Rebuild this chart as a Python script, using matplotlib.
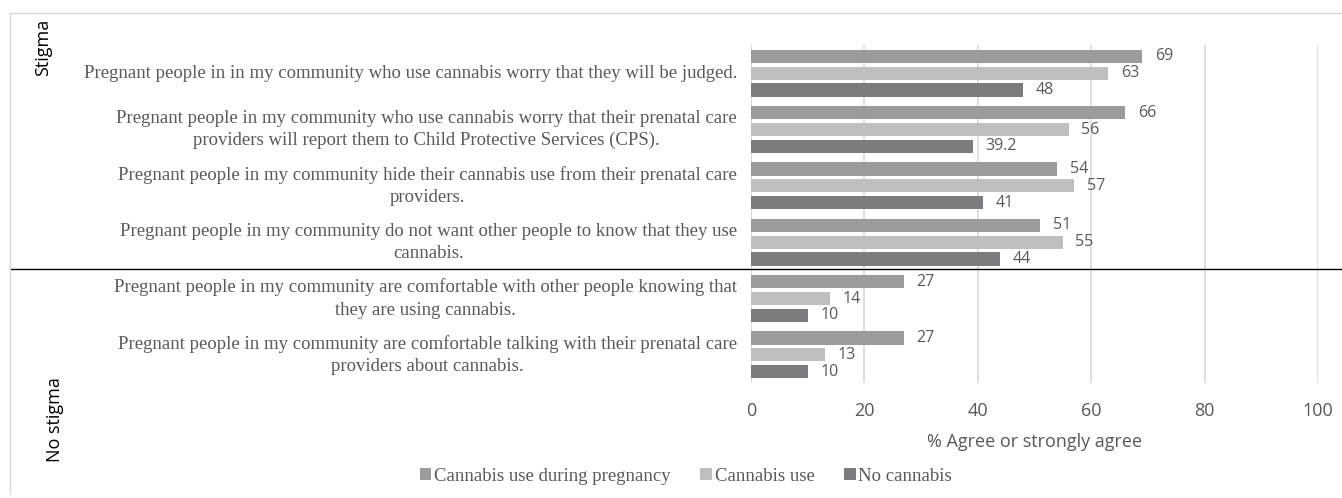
import numpy as np
import matplotlib.pyplot as plt
from matplotlib.lines import Line2D

statements = [
    "Pregnant people in in my community who use cannabis worry that they will be judged.",
    "Pregnant people in my community who use cannabis worry that their prenatal care\nproviders will report them to Child Protective Services (CPS).",
    "Pregnant people in my community hide their cannabis use from their prenatal care\nproviders.",
    "Pregnant people in my community do not want other people to know that they use\ncannabis.",
    "Pregnant people in my community are comfortable with other people knowing that\nthey are using cannabis.",
    "Pregnant people in my community are comfortable talking with their prenatal care\nproviders about cannabis.",
]
series_names = ["Cannabis use during pregnancy", "Cannabis use", "No cannabis"]
use_pregnancy = [69, 66, 54, 51, 27, 27]
use_any = [63, 56, 57, 55, 14, 13]
no_use = [48, 39.2, 41, 44, 10, 10]
colors = ["#9b9b9e", "#bfbfc1", "#7c7c80"]

serif = "Liberation Serif"
sans = "Open Sans"
txt = "#595959"

fig = plt.figure(figsize=(13.42, 4.98), dpi=100)
ax = fig.add_axes([0.5596, 0.2309, 0.4225, 0.6787])

y = np.arange(len(statements))
offsets = [-0.3, 0.0, 0.3]
h = 0.235
for vals, off, c, name in zip([use_pregnancy, use_any, no_use], offsets, colors, series_names):
    bars = ax.barh(y + off, vals, height=h, color=c, label=name, zorder=3)
    for b, v in zip(bars, vals):
        ax.annotate(f"{v:g}", (b.get_width(), b.get_y() + b.get_height() / 2),
                    xytext=(9, 0), textcoords="offset points", va="center",
                    ha="left", fontsize=11.5, family=sans, color=txt)

ax.set_xlim(0, 100)
ax.set_ylim(len(statements) - 0.5, -0.5)
ax.set_xticks(range(0, 101, 20))
ax.set_yticks(y)
ax.set_yticklabels(statements, family=serif, fontsize=13.5, color=txt,
                   multialignment="center", linespacing=1.4, va="center")
ax.tick_params(axis="y", length=0, pad=10)
ax.tick_params(axis="x", length=0, pad=14, labelsize=13, labelcolor=txt)
for lbl in ax.get_xticklabels():
    lbl.set_family(sans)
ax.grid(axis="x", color="#d9d9d9", linewidth=1.2, zorder=0)
for s in ax.spines.values():
    s.set_visible(False)
ax.axvline(0, color="#d9d9d9", linewidth=1.2, zorder=1)
ax.set_xlabel("% Agree or strongly agree", family=sans, fontsize=13,
              color=txt, labelpad=9)

# section divider and outer frame
fig.add_artist(Line2D([10 / 1342, 1], [1 - 269 / 498] * 2, color="black", linewidth=1))
fig.add_artist(Line2D([10 / 1342, 1], [1 - 13 / 498] * 2, color="#d9d9d9", linewidth=1))
fig.add_artist(Line2D([10 / 1342] * 2, [1 - 13 / 498, 0.01], color="#d9d9d9", linewidth=1))

fig.text(43 / 1342, 1 - 47 / 498, "Stigma", rotation=90, ha="center", va="center",
         family=sans, fontsize=13, color="black")
fig.text(55 / 1342, 1 - 420 / 498, "No stigma", rotation=90, ha="center", va="center",
         family=sans, fontsize=13, color="black")

fig.legend(loc="center", bbox_to_anchor=(686 / 1342, 1 - 476 / 498), ncol=3,
           frameon=False, prop={"family": serif, "size": 13.5},
           handlelength=0.6, handleheight=0.6, handletextpad=0.15,
           columnspacing=1.6, labelcolor=txt)

fig.savefig("out.png", dpi=100)
